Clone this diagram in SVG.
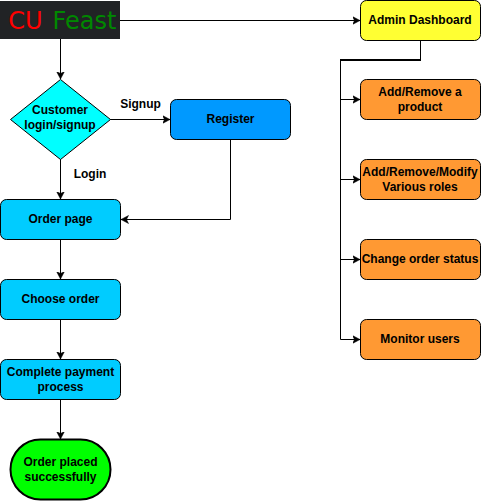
<svg xmlns="http://www.w3.org/2000/svg" width="481" height="501" viewBox="0 0 481 501">
<style>
text{font-family:"Liberation Sans",Arial,sans-serif;font-size:12px;font-weight:bold;text-anchor:middle;fill:#000}
.s{stroke:#000;stroke-width:1}
.c{fill:none;stroke:#000;stroke-width:1}
.o{fill:#f93}
.b{fill:#0cf}
.l{font-size:24px;font-weight:normal;font-family:"DejaVu Sans",sans-serif}
</style>
<defs><marker id="a" markerUnits="userSpaceOnUse" markerWidth="8" markerHeight="9" refX="7.500" refY="4.500" orient="auto"><path d="M0 0.500L7.500 4.500L0 8.500L2 4.500Z" fill="#000" stroke="#000" stroke-width="0.500"/></marker></defs>
<rect width="481" height="501" fill="#fff"/>
<g id="connectors">
<path class="c" marker-end="url(#a)" d="M120 20.500H360"/>
<path class="c" marker-end="url(#a)" d="M60.500 39V79"/>
<path class="c" marker-end="url(#a)" d="M110 119.500H170"/>
<path class="c" marker-end="url(#a)" d="M60.500 159V199"/>
<path class="c" marker-end="url(#a)" d="M230.500 139V219.500H121"/>
<path class="c" marker-end="url(#a)" d="M60.500 239V279"/>
<path class="c" marker-end="url(#a)" d="M60.500 319V359"/>
<path class="c" marker-end="url(#a)" d="M60.500 399V439"/>
<path class="c" d="M420.500 40V60"/>
<path class="c" d="M421 60H340" style="stroke-width:2"/>
<path class="c" marker-end="url(#a)" d="M340.500 60V99.500H360"/>
<path class="c" marker-end="url(#a)" d="M340.500 99V179.500H360"/>
<path class="c" marker-end="url(#a)" d="M340.500 179V259.500H360"/>
<path class="c" marker-end="url(#a)" d="M340.500 259V339.500H360"/>
</g>
<g id="logo"><rect x="0" y="1" width="120" height="38" fill="#212325"/><text class="l" x="25.500" y="29" style="fill:#f00">CU</text><text class="l" x="84.500" y="29" style="fill:#080">Feast</text></g>
<g id="login"><path class="s" fill="#0ff" d="M60.500 79.500L110.500 119.500L60.500 159.500L10.500 119.500Z"/><text x="60" y="114">Customer</text><text x="60" y="129">login/signup</text></g>
<g id="register"><rect class="s" x="170.500" y="99.500" width="120" height="40" rx="6" fill="#09f"/><text x="230.500" y="123">Register</text></g>
<g id="order-page"><rect class="s b" x="0.500" y="199.500" width="120" height="40" rx="6"/><text x="60.500" y="223">Order page</text></g>
<g id="choose-order"><rect class="s b" x="0.500" y="279.500" width="120" height="40" rx="6"/><text x="60.500" y="303">Choose order</text></g>
<g id="payment"><rect class="s b" x="0.500" y="359.500" width="120" height="40" rx="6"/><text x="60.500" y="376">Complete payment</text><text x="60.500" y="391">process</text></g>
<g id="placed"><rect x="10.500" y="439.500" width="100" height="60" rx="30" fill="#0f0" stroke="#000" stroke-width="2"/><text x="60.500" y="466">Order placed</text><text x="60.500" y="481">successfully</text></g>
<g id="admin"><rect class="s" x="360.500" y="0.500" width="120" height="40" rx="6" fill="#ff3"/><text x="420" y="24">Admin Dashboard</text></g>
<g id="product"><rect class="s o" x="360.500" y="79.500" width="120" height="40" rx="6"/><text x="420" y="96">Add/Remove a</text><text x="420" y="111">product</text></g>
<g id="roles"><rect class="s o" x="360.500" y="159.500" width="120" height="40" rx="6"/><text x="420" y="176">Add/Remove/Modify</text><text x="420" y="191">Various roles</text></g>
<g id="status"><rect class="s o" x="360.500" y="239.500" width="120" height="40" rx="6"/><text x="420" y="263">Change order status</text></g>
<g id="monitor"><rect class="s o" x="360.500" y="319.500" width="120" height="40" rx="6"/><text x="420" y="343">Monitor users</text></g>
<g id="labels"><text x="140.500" y="108">Signup</text><text x="90" y="178">Login</text></g>
</svg>
